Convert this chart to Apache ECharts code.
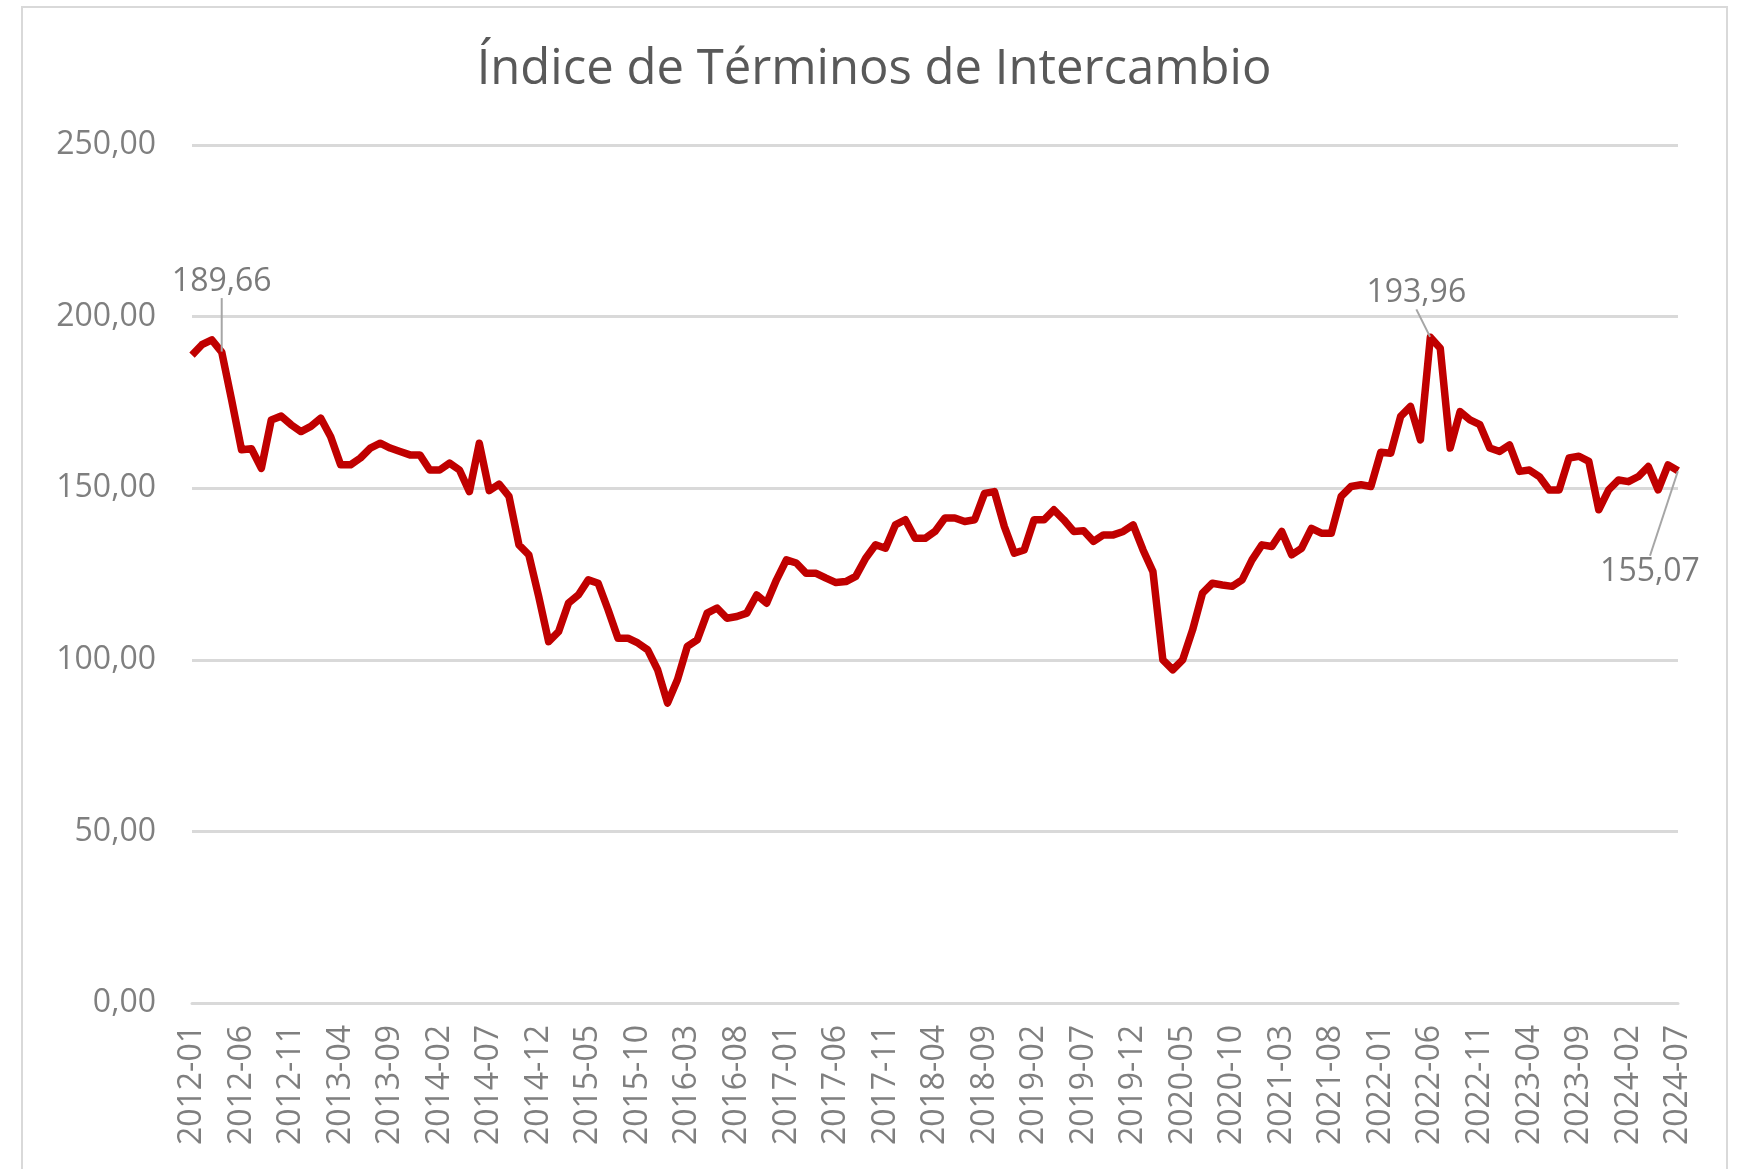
<!DOCTYPE html>
<html>
<head>
<meta charset="utf-8">
<script src="https://cdn.jsdelivr.net/npm/echarts@6/dist/echarts.min.js"></script>
<style>
html,body{margin:0;padding:0;background:#fff;}
#chart{width:1748px;height:1169px;}
</style>
</head>
<body>
<div id="chart"></div>
<script>
// Months 2012-01 .. 2024-07
var startYear = 2012, startMonth = 1, monthCount = 151;
var categories = [];
for (var k = 0; k < monthCount; k++) {
  var m = startMonth - 1 + k;
  var y = startYear + Math.floor(m / 12);
  var mm = (m % 12) + 1;
  categories.push(y + '-' + (mm < 10 ? '0' + mm : '' + mm));
}

var titleText = 'Índice de Términos de Intercambio';

var values = [
  188.8, 191.8, 193.2, 189.66, 175.7, 161.2, 161.5, 155.8, 169.9, 171.0,
  168.5, 166.5, 168.0, 170.4, 165.0, 156.8, 156.8, 158.8, 161.7, 163.1,
  161.7, 160.7, 159.7, 159.7, 155.3, 155.3, 157.3, 155.3, 149.0, 163.1,
  149.3, 151.2, 147.6, 133.5, 130.6, 118.4, 105.3, 108.2, 116.5, 118.9,
  123.3, 122.3, 114.6, 106.3, 106.3, 104.9, 102.9, 97.1, 87.4, 94.2,
  103.9, 105.8, 113.6, 115.1, 112.1, 112.6, 113.6, 118.9, 116.5, 123.3,
  129.1, 128.2, 125.2, 125.2, 123.8, 122.5, 122.8, 124.3, 129.6, 133.5,
  132.5, 139.3, 140.8, 135.4, 135.4, 137.4, 141.3, 141.3, 140.3, 140.8,
  148.5, 149.0, 138.8, 131.1, 132.0, 140.8, 140.8, 143.7, 140.8, 137.4,
  137.6, 134.5, 136.4, 136.4, 137.4, 139.3, 132.0, 125.7, 100.0, 97.1,
  100.0, 108.7, 119.4, 122.3, 121.8, 121.4, 123.3, 129.1, 133.5, 133.0,
  137.4, 130.6, 132.5, 138.3, 136.9, 136.9, 147.6, 150.5, 151.0, 150.5,
  160.5, 160.2, 170.9, 173.8, 164.1, 193.96, 190.8, 161.7, 172.3, 169.9,
  168.5, 161.7, 160.7, 162.6, 154.9, 155.3, 153.4, 149.5, 149.5, 158.8,
  159.3, 157.8, 143.7, 149.5, 152.4, 151.9, 153.4, 156.3, 149.5, 156.8,
  155.07
];

// annotated points (index into categories)
var annotIndex = [3, 125, 150];

var yTicks = { min: 0, max: 250, step: 50 };

function fmt(v) { return v.toFixed(2).replace('.', ','); }

var annotData = annotIndex.map(function (i) { return [categories[i], values[i]]; });
var labelShift = [[0, -70], [-14, -44], [-28, 101]];

var chart = echarts.init(document.getElementById('chart'), null, { renderer: 'canvas' });
chart.setOption({
  animation: false,
  backgroundColor: '#ffffff',
  title: {
    text: titleText,
    left: 'center',
    top: 41,
    textStyle: { fontFamily: 'Open Sans', fontSize: 49, fontWeight: 'normal', color: '#595959' }
  },
  graphic: [{
    type: 'rect',
    shape: { x: 22, y: 7, width: 1705, height: 1200 },
    style: { fill: 'none', stroke: '#d9d9d9', lineWidth: 2 },
    silent: true
  }],
  grid: { left: 192, right: 70, top: 145, bottom: 166, containLabel: false },
  xAxis: {
    type: 'category',
    data: categories,
    boundaryGap: false,
    axisLine: { show: true, lineStyle: { color: '#d9d9d9', width: 3 } },
    axisTick: { show: false },
    axisLabel: {
      interval: 4,
      rotate: 90,
      margin: 22,
      fontFamily: 'Open Sans',
      fontSize: 32,
      color: '#7f7f7f'
    },
    splitLine: { show: false }
  },
  yAxis: {
    type: 'value',
    min: yTicks.min,
    max: yTicks.max,
    interval: yTicks.step,
    axisLine: { show: false },
    axisTick: { show: false },
    axisLabel: {
      margin: 36,
      fontFamily: 'Open Sans',
      fontSize: 32,
      color: '#7f7f7f',
      formatter: function (v) { return fmt(v); }
    },
    splitLine: { lineStyle: { color: '#d9d9d9', width: 3 } }
  },
  series: [{
    type: 'line',
    data: values,
    showSymbol: false,
    symbol: 'none',
    lineStyle: { color: '#c00000', width: 7.5, join: 'round' },
    z: 3
  }, {
    type: 'scatter',
    data: annotData,
    symbolSize: 1,
    itemStyle: { color: 'rgba(0,0,0,0)' },
    z: 4,
    label: {
      show: true,
      position: 'inside',
      fontFamily: 'Open Sans',
      fontSize: 32,
      color: '#595959',
      formatter: function (p) { return fmt(p.value[1]); }
    },
    labelLine: { show: true, lineStyle: { color: '#a6a6a6', width: 2 } },
    labelLayout: function (p) {
      var s = labelShift[p.dataIndex];
      return { dx: s[0], dy: s[1] };
    }
  }]
});
</script>
</body>
</html>
